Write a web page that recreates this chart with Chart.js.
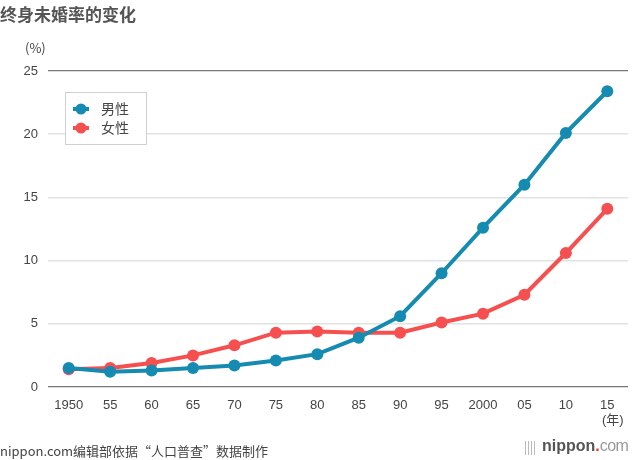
<!DOCTYPE html>
<html>
<head>
<meta charset="utf-8">
<script src="https://cdn.jsdelivr.net/npm/chart.js@4"></script>
<style>
  body { margin: 0; background: #fff; font-family: "Liberation Sans", "Noto Sans CJK SC", sans-serif; }
  #wrap { position: relative; width: 640px; height: 460px; overflow: hidden; }
  canvas { position: absolute; left: 0; top: 0; }
  .txt { position: absolute; white-space: nowrap; color: #555; }
  #title { left: 0; top: 1px; font-size: 17px; font-weight: bold; color: #555; font-family: "Noto Sans CJK SC", sans-serif; }
  #unitY { left: 25px; top: 38px; font-size: 13px; color: #444; font-family: "Noto Sans CJK SC", sans-serif; }
  #unitX { left: 602px; top: 409px; font-size: 13px; color: #444; font-family: "Liberation Sans", "Noto Sans CJK SC", sans-serif; }
  #source { left: 0; top: 441px; font-size: 13px; color: #444; font-family: "Noto Sans CJK SC", sans-serif; }
  #logo { left: 542px; top: 437px; font-size: 16px; font-family: "Liberation Sans", sans-serif; }
  #logo b { color: #555; }
  #logo .dot { color: #e8322f; font-weight: bold; }
  #logo .com { color: #999; letter-spacing: -0.6px; }
  #bars { left: 525px; top: 441px; width: 12px; height: 14px;
    background: repeating-linear-gradient(90deg, #bbb 0 1.5px, transparent 1.5px 3px); }
</style>
</head>
<body>
<div id="wrap">
  <canvas id="chart" width="640" height="460"></canvas>
  <div class="txt" id="title">终身未婚率的变化</div>
  <div class="txt" id="unitY">(%)</div>
  <div class="txt" id="unitX">(年)</div>
  <div class="txt" id="source">nippon.com编辑部依据“人口普查”数据制作</div>
  <div class="txt" id="bars"></div>
  <div class="txt" id="logo"><b>nippon</b><span class="dot">.</span><span class="com">com</span></div>
</div>
<script>
// 终身未婚率（%）
const years = ['1950', '55', '60', '65', '70', '75', '80', '85', '90', '95', '2000', '05', '10', '15'];
const maleRate = [1.5, 1.2, 1.3, 1.5, 1.7, 2.1, 2.6, 3.9, 5.6, 9.0, 12.6, 16.0, 20.1, 23.4];
const femaleRate = [1.4, 1.5, 1.9, 2.5, 3.3, 4.3, 4.4, 4.3, 4.3, 5.1, 5.8, 7.3, 10.6, 14.1];
const seriesNames = ['男性', '女性'];
const yTicks = [0, 5, 10, 15, 20, 25];

const BLUE = '#168bb1';
const RED = '#f5504f';

// legend box drawn inside the plot area
const boxLegend = {
  id: 'boxLegend',
  afterDraw(chart) {
    const ctx = chart.ctx;
    const x = 65, y = 92, w = 81, h = 52;
    ctx.save();
    ctx.fillStyle = '#fff';
    ctx.fillRect(x, y, w, h);
    ctx.strokeStyle = '#d0d0d0';
    ctx.lineWidth = 1;
    ctx.strokeRect(x + 0.5, y + 0.5, w, h);
    chart.data.datasets.forEach((ds, i) => {
      const cy = y + 17 + i * 19;
      ctx.strokeStyle = ds.borderColor;
      ctx.lineWidth = 4;
      ctx.beginPath();
      ctx.moveTo(x + 8, cy);
      ctx.lineTo(x + 24, cy);
      ctx.stroke();
      ctx.fillStyle = ds.borderColor;
      ctx.beginPath();
      ctx.arc(x + 16, cy, 5.5, 0, Math.PI * 2);
      ctx.fill();
      ctx.fillStyle = '#444';
      ctx.font = '14px "Noto Sans CJK SC", sans-serif';
      ctx.textBaseline = 'middle';
      ctx.fillText(ds.label, x + 36, cy);
    });
    ctx.restore();
  }
};

new Chart(document.getElementById('chart'), {
  type: 'line',
  data: {
    labels: years,
    datasets: [
      { label: seriesNames[0], data: maleRate, borderColor: BLUE, backgroundColor: BLUE,
        borderWidth: 4, pointRadius: 6, pointBorderWidth: 0, order: 0 },
      { label: seriesNames[1], data: femaleRate, borderColor: RED, backgroundColor: RED,
        borderWidth: 4, pointRadius: 6, pointBorderWidth: 0, order: 1 }
    ]
  },
  options: {
    responsive: false,
    animation: false,
    devicePixelRatio: 1,
    layout: { padding: { top: 71, right: 12, bottom: 0, left: 0 } },
    plugins: { legend: { display: false }, tooltip: { enabled: false } },
    scales: {
      x: {
        offset: true,
        grid: { display: false },
        border: { display: false },
        ticks: { color: '#444', font: { size: 13, family: '"Liberation Sans", sans-serif' }, padding: 3,
          maxRotation: 0, autoSkip: false },
        afterFit: (s) => { s.height = 73; }
      },
      y: {
        min: 0, max: 25,
        afterBuildTicks: (s) => { s.ticks = yTicks.map(v => ({ value: v })); },
        grid: {
          color: (c) => (c.tick && (c.tick.value === 0 || c.tick.value === 25)) ? '#777' : '#e2e2e2',
          lineWidth: (c) => (c.tick && (c.tick.value === 0 || c.tick.value === 25)) ? 1.2 : 1.5,
          drawTicks: false
        },
        border: { display: false },
        ticks: { color: '#444', font: { size: 13, family: '"Liberation Sans", sans-serif' }, padding: 10 },
        afterFit: (s) => { s.width = 48; }
      }
    }
  },
  plugins: [boxLegend]
});
</script>
</body>
</html>
